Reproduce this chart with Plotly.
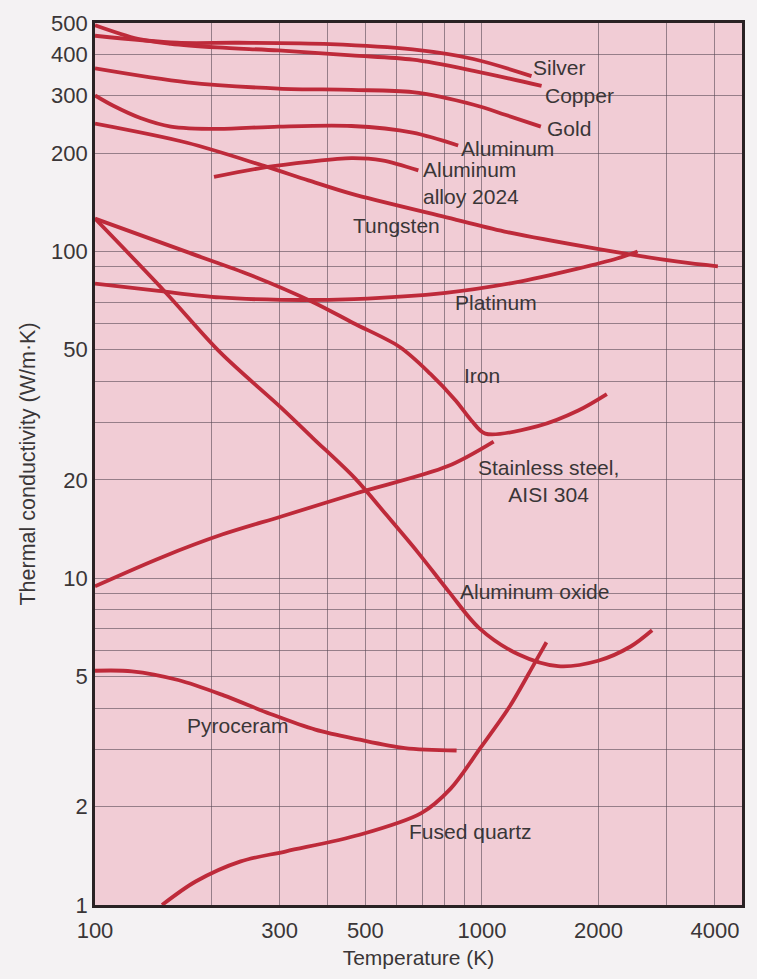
import math
import plotly.graph_objects as go

# ---------------- data ----------------
silver_T = [100, 163, 235, 405, 662, 950, 1343]
silver_k = [457, 435, 435, 431, 415, 388, 344]

copper_T = [100, 129, 157, 207, 298, 460, 663, 952, 1426]
copper_k = [492, 447, 432, 421, 412, 398, 386, 357, 321]

gold_T = [100, 173, 298, 460, 662, 952, 1148, 1420]
gold_k = [363, 329, 315, 312, 307, 281, 262, 241]

aluminum_T = [100, 111.5, 131, 157, 207, 298, 460, 662, 868]
aluminum_k = [300, 279, 256, 241, 237, 241, 242, 231, 211]

al2024_T = [203, 277, 356, 460, 552, 685]
al2024_k = [169, 181, 188, 193, 190, 177]

tungsten_T = [100, 173, 272, 356, 461, 792, 1144, 1971, 3211, 4071]
tungsten_k = [246, 215, 183, 165, 150, 128, 115, 102, 93, 90]

platinum_T = [100, 146, 210, 302, 467, 806, 1223, 1757, 2234, 2525]
platinum_k = [79.7, 75.7, 72.3, 71.1, 71.5, 74.7, 80.4, 88.4, 95.1, 100]

iron_T = [100, 174, 252, 363, 466, 613, 736, 855, 939, 1020, 1394, 1774, 2103]
iron_k = [126, 99.3, 84.7, 70.3, 60.3, 51, 42.2, 35, 30.4, 27.7, 29.2, 32.6, 36.6]

steel_T = [100, 149, 213, 306, 474, 814, 1072]
steel_k = [9.45, 11.6, 13.6, 15.5, 18.2, 22.0, 26.2]

oxide_T = [100, 151, 211, 304, 365, 470, 567, 683, 821, 982, 1245, 1573, 1997, 2422, 2753]
oxide_k = [126, 75.7, 49, 33.1, 26.9, 20.2, 15.6, 12.0, 9.1, 7.05, 5.84, 5.38, 5.59, 6.18, 6.93]

pyroceram_T = [100, 124.6, 164, 215, 283, 371, 479, 632, 860]
pyroceram_k = [5.21, 5.19, 4.88, 4.38, 3.85, 3.44, 3.21, 3.02, 2.97]

quartz_T = [149, 182, 238, 312, 483, 697, 830, 990, 1178, 1365, 1468]
quartz_k = [1.0, 1.18, 1.36, 1.46, 1.64, 1.91, 2.27, 3.02, 4.04, 5.47, 6.37]

x_tick_labels = [100, 300, 500, 1000, 2000, 4000]
y_tick_labels = [1, 2, 5, 10, 20, 50, 100, 200, 300, 400, 500]

# curve labels: text, temperature, conductivity, anchor
curve_labels = [
    ("Silver", 1342, 365, "left"),
    ("Copper", 1434, 301, "left"),
    ("Gold", 1459, 238, "left"),
    ("Aluminum", 873, 207, "left"),
    ("Aluminum<br>alloy 2024", 695, 162, "left"),
    ("Tungsten", 458, 120, "left"),
    ("Platinum", 841, 70.0, "left"),
    ("Iron", 890, 41.8, "left"),
    ("Stainless steel,<br>AISI 304", 1483, 19.8, "center"),
    ("Aluminum oxide", 865, 9.1, "left"),
    ("Pyroceram", 171, 3.55, "left"),
    ("Fused quartz", 641, 1.68, "left"),
]

# ---------------- figure ----------------
RED = "#be2a3a"
TEXT = "#3a3637"
FONT = "Liberation Sans, Arial, sans-serif"

series = [
    (silver_T, silver_k), (copper_T, copper_k), (gold_T, gold_k),
    (aluminum_T, aluminum_k), (al2024_T, al2024_k), (tungsten_T, tungsten_k),
    (platinum_T, platinum_k), (iron_T, iron_k), (steel_T, steel_k),
    (oxide_T, oxide_k), (pyroceram_T, pyroceram_k), (quartz_T, quartz_k),
]

fig = go.Figure()
for T, k in series:
    fig.add_trace(go.Scatter(
        x=T, y=k, mode="lines",
        line=dict(color=RED, width=3.8, shape="spline", smoothing=0.9),
        hoverinfo="skip", showlegend=False,
    ))

for text, T, k, anchor in curve_labels:
    fig.add_annotation(
        x=math.log10(T), y=math.log10(k), text=text, showarrow=False,
        xanchor=anchor, yanchor="middle", align=anchor,
        font=dict(family=FONT, size=21, color=TEXT),
    )

# grid positions: every 1..9 multiple of each decade
x_grid = [m * 10 ** e for e in (2, 3) for m in range(1, 10) if m * 10 ** e <= 4000]
y_grid = [m * 10 ** e for e in (0, 1, 2) for m in range(1, 10) if m * 10 ** e <= 500]

x_text = [str(v) if v in x_tick_labels else "" for v in x_grid]
y_text = [str(v) if v in y_tick_labels else "" for v in y_grid]

axis_common = dict(
    type="log", showgrid=True, gridcolor="rgba(90,74,86,0.6)", gridwidth=1,
    showline=True, mirror=True, linecolor="#2a2224", linewidth=2.6,
    ticks="", zeroline=False, tickmode="array",
    tickfont=dict(family=FONT, size=22, color=TEXT),
)

fig.update_layout(
    width=757, height=979,
    margin=dict(l=95, r=15, t=23, b=74, autoexpand=False),
    paper_bgcolor="#f4f2f3", plot_bgcolor="#f1ccd5",
    xaxis=dict(
        **axis_common, range=[2, math.log10(4700)],
        tickvals=x_grid, ticktext=x_text, ticklabelstandoff=4,
        title=dict(text="Temperature (K)", standoff=9,
                   font=dict(family=FONT, size=21, color=TEXT)),
    ),
    yaxis=dict(
        **axis_common, range=[0, math.log10(500)],
        tickvals=y_grid, ticktext=y_text,
        title=dict(text="Thermal conductivity (W/m·K)", standoff=10,
                   font=dict(family=FONT, size=21.5, color=TEXT)),
    ),
)

fig.write_html("out.html")
